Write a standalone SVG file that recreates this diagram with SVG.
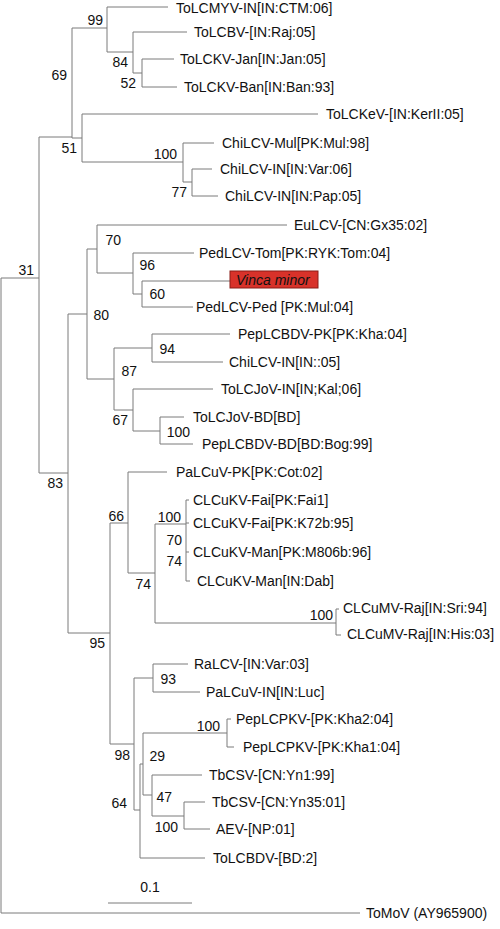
<svg xmlns="http://www.w3.org/2000/svg" width="500" height="929" viewBox="0 0 500 929">
<style>
text{font-family:"Liberation Sans",Arial,sans-serif;font-size:14px;fill:#111}
.b{fill:none;stroke:#7a7a7a;stroke-width:1}
</style>
<rect width="500" height="929" fill="#fff"/>
<g id="connectors" class="b">
<path d="M1,278V913M1,278H39M1,913H360"/>
<path d="M39,137V473M39,137H72M39,473H68"/>
<path d="M72,28V138M72,28H107M72,138H82"/>
<path d="M107,7V52M107,7H168M107,52H133"/>
<path d="M133,32V73M133,32H187M133,73H142"/>
<path d="M142,59V87M142,59H174M142,87H177"/>
<path d="M82,114V162M82,114H318M82,162H183"/>
<path d="M183,143V182M183,143H214M183,182H192"/>
<path d="M192,169V196M192,169H212M192,196H218"/>
<path d="M68,314V633M68,314H87M68,633H110"/>
<path d="M87,249V379M87,249H97M87,379H114"/>
<path d="M97,225V273M97,225H287M97,273H133"/>
<path d="M133,253V294M133,253H194M133,294H142"/>
<path d="M142,281V307M142,281H230M142,307H193"/>
<path d="M114,348V410M114,348H152M114,410H133"/>
<path d="M152,334V362M152,334H230M152,362H223"/>
<path d="M133,389V431M133,389H213M133,431H160"/>
<path d="M160,417V444M160,417H184M160,444H193"/>
<path d="M110,523V744M110,523H128M110,744H134"/>
<path d="M128,472V573M128,472H167M128,573H155"/>
<path d="M155,524V623M155,524H186M155,623H336"/>
<path d="M186,500V581M186,500H189M186,523H189M186,552H189M186,581H190"/>
<path d="M336,609V635M336,609H339M336,635H341"/>
<path d="M134,678V810M134,678H153M134,810H140"/>
<path d="M153,664V692M153,664H188M153,692H200"/>
<path d="M140,764V858M140,764H143M140,858H205"/>
<path d="M143,733V795M143,733H227M143,795H152"/>
<path d="M227,719V747M227,719H231M227,747H234"/>
<path d="M152,775V816M152,775H202M152,816H184"/>
<path d="M184,802V829M184,802H205M184,829H210"/>
<path d="M108,903H192"/>
</g>
<g id="leaves">
<g id="n-ToLCMYV"><text x="176" y="13">ToLCMYV-IN[IN:CTM:06]</text></g>
<g id="n-ToLCBV"><text x="194" y="37">ToLCBV-[IN:Raj:05]</text></g>
<g id="n-ToLCKV-Jan"><text x="180" y="64">ToLCKV-Jan[IN:Jan:05]</text></g>
<g id="n-ToLCKV-Ban"><text x="184" y="92">ToLCKV-Ban[IN:Ban:93]</text></g>
<g id="n-ToLCKeV"><text x="326" y="119">ToLCKeV-[IN:KerII:05]</text></g>
<g id="n-ChiLCV-Mul"><text x="222" y="148">ChiLCV-Mul[PK:Mul:98]</text></g>
<g id="n-ChiLCV-Var"><text x="220" y="174">ChiLCV-IN[IN:Var:06]</text></g>
<g id="n-ChiLCV-Pap"><text x="225" y="201">ChiLCV-IN[IN:Pap:05]</text></g>
<g id="n-EuLCV"><text x="294" y="230">EuLCV-[CN:Gx35:02]</text></g>
<g id="n-PedLCV-Tom"><text x="199" y="258">PedLCV-Tom[PK:RYK:Tom:04]</text></g>
<g id="n-Vinca"><rect x="230" y="271" width="88" height="17" fill="#d8322a" stroke="#8a1c16" stroke-width="1"/><text x="236" y="285" font-style="italic">Vinca minor</text></g>
<g id="n-PedLCV-Ped"><text x="196" y="312">PedLCV-Ped [PK:Mul:04]</text></g>
<g id="n-PepLCBDV-PK"><text x="238" y="339">PepLCBDV-PK[PK:Kha:04]</text></g>
<g id="n-ChiLCV-05"><text x="229" y="367">ChiLCV-IN[IN::05]</text></g>
<g id="n-ToLCJoV-IN"><text x="221" y="394">ToLCJoV-IN[IN;Kal;06]</text></g>
<g id="n-ToLCJoV-BD"><text x="193" y="422">ToLCJoV-BD[BD]</text></g>
<g id="n-PepLCBDV-BD"><text x="202" y="449">PepLCBDV-BD[BD:Bog:99]</text></g>
<g id="n-PaLCuV-PK"><text x="176" y="477">PaLCuV-PK[PK:Cot:02]</text></g>
<g id="n-CLCuKV-Fai1"><text x="193" y="505">CLCuKV-Fai[PK:Fai1]</text></g>
<g id="n-CLCuKV-K72b"><text x="193" y="528">CLCuKV-Fai[PK:K72b:95]</text></g>
<g id="n-CLCuKV-M806b"><text x="193" y="557">CLCuKV-Man[PK:M806b:96]</text></g>
<g id="n-CLCuKV-Dab"><text x="197" y="586">CLCuKV-Man[IN:Dab]</text></g>
<g id="n-CLCuMV-Sri"><text x="343" y="613">CLCuMV-Raj[IN:Sri:94]</text></g>
<g id="n-CLCuMV-His"><text x="347" y="639">CLCuMV-Raj[IN:His:03]</text></g>
<g id="n-RaLCV"><text x="194" y="669">RaLCV-[IN:Var:03]</text></g>
<g id="n-PaLCuV-IN"><text x="206" y="697">PaLCuV-IN[IN:Luc]</text></g>
<g id="n-PepLCPKV-Kha2"><text x="236" y="724">PepLCPKV-[PK:Kha2:04]</text></g>
<g id="n-PepLCPKV-Kha1"><text x="243" y="752">PepLCPKV-[PK:Kha1:04]</text></g>
<g id="n-TbCSV-Yn1"><text x="209" y="780">TbCSV-[CN:Yn1:99]</text></g>
<g id="n-TbCSV-Yn35"><text x="212" y="807">TbCSV-[CN:Yn35:01]</text></g>
<g id="n-AEV"><text x="216" y="834">AEV-[NP:01]</text></g>
<g id="n-ToLCBDV"><text x="213" y="863">ToLCBDV-[BD:2]</text></g>
<g id="n-ToMoV"><text x="366" y="918">ToMoV (AY965900)</text></g>
</g>
<g id="support">
<text x="103" y="25" text-anchor="end">99</text>
<text x="128" y="67" text-anchor="end">84</text>
<text x="136" y="88" text-anchor="end">52</text>
<text x="67" y="80" text-anchor="end">69</text>
<text x="77" y="153" text-anchor="end">51</text>
<text x="177" y="159" text-anchor="end">100</text>
<text x="187" y="197" text-anchor="end">77</text>
<text x="34" y="275" text-anchor="end">31</text>
<text x="121" y="245" text-anchor="end">70</text>
<text x="155" y="270" text-anchor="end">96</text>
<text x="165" y="299" text-anchor="end">60</text>
<text x="109" y="320" text-anchor="end">80</text>
<text x="175" y="354" text-anchor="end">94</text>
<text x="137" y="376" text-anchor="end">87</text>
<text x="128" y="425" text-anchor="end">67</text>
<text x="190" y="437" text-anchor="end">100</text>
<text x="63" y="488" text-anchor="end">83</text>
<text x="124" y="521" text-anchor="end">66</text>
<text x="181" y="522" text-anchor="end">100</text>
<text x="182" y="545" text-anchor="end">70</text>
<text x="182" y="566" text-anchor="end">74</text>
<text x="151" y="589" text-anchor="end">74</text>
<text x="333" y="620" text-anchor="end">100</text>
<text x="105" y="648" text-anchor="end">95</text>
<text x="176" y="684" text-anchor="end">93</text>
<text x="220" y="731" text-anchor="end">100</text>
<text x="130" y="760" text-anchor="end">98</text>
<text x="165" y="761" text-anchor="end">29</text>
<text x="172" y="802" text-anchor="end">47</text>
<text x="127" y="808" text-anchor="end">64</text>
<text x="178" y="832" text-anchor="end">100</text>
<text x="150" y="892" text-anchor="middle">0.1</text>
</g>
</svg>
